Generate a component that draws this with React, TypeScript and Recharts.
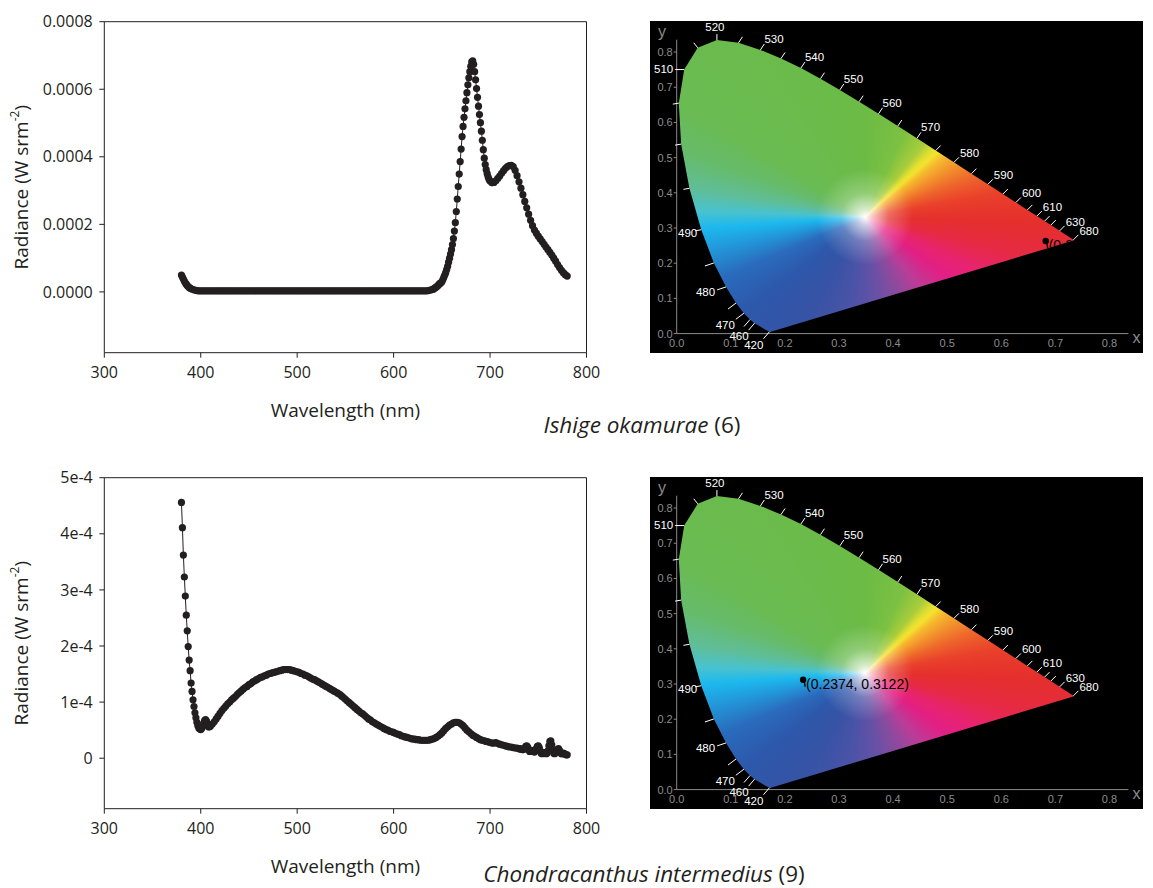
import React from 'react';
import { ComposedChart, LineChart, Line, Scatter, XAxis, YAxis, ReferenceLine, Label } from 'recharts';

// radiance spectra, [wavelength nm, radiance in 1e-6 W srm^-2]
const ishigeSpectrum: [number, number][] = [
  [380, 50], [381, 44], [382, 38], [383, 32], [384, 27], [385, 23], [386, 19], [387, 16], [388, 13], [389, 11],
  [390, 9], [392, 7], [394, 5], [396, 4], [398, 3],
  [400, 3], [402, 3], [404, 3], [406, 3], [408, 3], [410, 3], [412, 3], [414, 3], [416, 3], [418, 3],
  [420, 3], [422, 3], [424, 3], [426, 3], [428, 3], [430, 3], [432, 3], [434, 3], [436, 3], [438, 3],
  [440, 3], [442, 3], [444, 3], [446, 3], [448, 3], [450, 3], [452, 3], [454, 3], [456, 3], [458, 3],
  [460, 3], [462, 3], [464, 3], [466, 3], [468, 3], [470, 3], [472, 3], [474, 3], [476, 3], [478, 3],
  [480, 3], [482, 3], [484, 3], [486, 3], [488, 3], [490, 3], [492, 3], [494, 3], [496, 3], [498, 3],
  [500, 3], [502, 3], [504, 3], [506, 3], [508, 3], [510, 3], [512, 3], [514, 3], [516, 3], [518, 3],
  [520, 3], [522, 3], [524, 3], [526, 3], [528, 3], [530, 3], [532, 3], [534, 3], [536, 3], [538, 3],
  [540, 3], [542, 3], [544, 3], [546, 3], [548, 3], [550, 3], [552, 3], [554, 3], [556, 3], [558, 3],
  [560, 3], [562, 3], [564, 3], [566, 3], [568, 3], [570, 3], [572, 3], [574, 3], [576, 3], [578, 3],
  [580, 3], [582, 3], [584, 3], [586, 3], [588, 3], [590, 3], [592, 3], [594, 3], [596, 3], [598, 3],
  [600, 3], [602, 3], [604, 3], [606, 3], [608, 3], [610, 3], [612, 3], [614, 3], [616, 3], [618, 3],
  [620, 3], [622, 3], [624, 3], [626, 3], [628, 3], [630, 3], [632, 3], [634, 3], [636, 4], [638, 5],
  [640, 7], [641, 8], [642, 10], [643, 12], [644, 14], [645, 16], [646, 19], [647, 22], [648, 25], [649, 27],
  [650, 30], [651, 36], [652, 43], [653, 50], [654, 57], [655, 66], [656, 76], [657, 88], [658, 100], [659, 112],
  [660, 125], [661, 140], [662, 158], [663, 180], [664, 205], [665, 238], [666, 275], [667, 312], [668, 349], [669, 386],
  [670, 423], [671, 460], [672, 490], [673, 517], [674, 542], [675, 566], [676, 590], [677, 613], [678, 634], [679, 652],
  [680, 668], [681, 681], [682, 684], [683, 674], [684, 652], [685, 628], [686, 602], [687, 576], [688, 550], [689, 525],
  [690, 501], [691, 476], [692, 449], [693, 421], [694, 396], [695, 377], [696, 362], [697, 350], [698, 340], [699, 333],
  [700, 328], [702, 323], [704, 324], [706, 329], [708, 336], [710, 343], [712, 351], [714, 359], [716, 366], [718, 371],
  [720, 374], [722, 375], [724, 371], [726, 360], [728, 344], [730, 326], [732, 307], [734, 288], [736, 268], [738, 249],
  [740, 230], [742, 212], [744, 196], [746, 183], [748, 174], [750, 165], [752, 157], [754, 149], [756, 141], [758, 133],
  [760, 125], [762, 117], [764, 109], [766, 100], [768, 91], [770, 81], [772, 72], [774, 64], [776, 57], [778, 51],
  [780, 47],
];

const chondraSpectrum: [number, number][] = [
  [380, 456], [381, 411], [382, 362], [383, 323], [384, 289], [385, 255], [386, 227], [387, 199], [388, 175], [389, 156],
  [390, 134], [391, 119], [392, 104], [393, 92], [394, 81], [395, 72], [396, 64], [397, 58], [398, 54], [399, 52],
  [400, 51], [401, 53], [402, 57], [403, 62], [404, 67], [405, 69], [406, 66], [407, 60], [408, 56], [409, 56],
  [410, 57], [412, 61], [414, 65], [416, 70], [418, 75], [420, 80], [422, 85], [424, 89], [426, 93], [428, 97],
  [430, 100], [432, 104], [434, 107], [436, 110], [438, 114], [440, 117], [442, 120], [444, 123], [446, 126], [448, 128],
  [450, 131], [452, 133], [454, 136], [456, 138], [458, 140], [460, 142], [462, 144], [464, 145], [466, 147], [468, 148],
  [470, 150], [472, 151], [474, 152], [476, 153], [478, 154], [480, 155], [482, 156], [484, 157], [486, 158], [488, 158],
  [490, 158], [492, 158], [494, 157], [496, 156], [498, 155], [500, 154], [502, 153], [504, 151], [506, 150], [508, 148],
  [510, 147], [512, 145], [514, 143], [516, 141], [518, 140], [520, 138], [522, 136], [524, 134], [526, 132], [528, 130],
  [530, 128], [532, 126], [534, 124], [536, 122], [538, 120], [540, 118], [542, 116], [544, 114], [546, 111], [548, 108],
  [550, 105], [552, 102], [554, 99], [556, 96], [558, 93], [560, 90], [562, 87], [564, 84], [566, 81], [568, 79],
  [570, 76], [572, 73], [574, 70], [576, 68], [578, 65], [580, 63], [582, 61], [584, 59], [586, 57], [588, 55],
  [590, 53], [592, 51], [594, 50], [596, 48], [598, 47], [600, 46], [602, 44], [604, 43], [606, 42], [608, 40],
  [610, 39], [612, 38], [614, 37], [616, 36], [618, 35], [620, 34], [622, 34], [624, 33], [626, 33], [628, 32],
  [630, 32], [632, 32], [634, 32], [636, 32], [638, 33], [640, 34], [642, 35], [644, 37], [646, 39], [648, 42],
  [650, 45], [652, 49], [654, 53], [656, 56], [658, 59], [660, 61], [662, 63], [664, 64], [666, 64], [668, 63],
  [670, 61], [672, 58], [674, 54], [676, 50], [678, 47], [680, 44], [682, 41], [684, 39], [686, 37], [688, 35],
  [690, 33], [692, 32], [694, 31], [696, 30], [698, 29], [700, 28], [702, 27], [704, 27], [706, 28], [708, 26],
  [710, 25], [712, 24], [714, 23], [716, 22], [718, 21], [720, 20], [722, 20], [724, 19], [726, 18], [728, 18],
  [730, 17], [731, 17], [732, 16], [733, 16], [734, 15], [735, 16], [736, 18], [737, 21], [738, 22], [739, 20],
  [740, 15], [741, 12], [742, 13], [743, 14], [744, 13], [745, 12], [746, 11], [747, 13], [748, 17], [749, 21],
  [750, 22], [751, 19], [752, 13], [753, 9], [754, 8], [755, 9], [756, 10], [757, 9], [758, 8], [759, 9],
  [760, 13], [761, 22], [762, 30], [763, 31], [764, 24], [765, 14], [766, 9], [767, 8], [768, 10], [769, 13],
  [770, 16], [771, 17], [772, 14], [773, 10], [774, 8], [775, 8], [776, 9], [777, 8], [778, 7], [779, 6],
  [780, 6],
];

const wavelengthTicks = [300, 400, 500, 600, 700, 800];
const ishigeTicks = [0, 200, 400, 600, 800];
const ishigeTickLabels = ['0.0000', '0.0002', '0.0004', '0.0006', '0.0008'];
const chondraTicks = [0, 100, 200, 300, 400, 500];
const chondraTickLabels = ['0', '1e-4', '2e-4', '3e-4', '4e-4', '5e-4'];

// CIE 1931 spectral locus, [nm, x, y]
const spectralLocus: [number, number, number][] = [
  [380, 0.1741, 0.005], [385, 0.174, 0.005], [390, 0.1738, 0.0049], [395, 0.1736, 0.0049], [400, 0.1733, 0.0048],
  [405, 0.173, 0.0048], [410, 0.1726, 0.0048], [415, 0.1721, 0.0048], [420, 0.1714, 0.0051], [425, 0.1703, 0.0058],
  [430, 0.1689, 0.0069], [435, 0.1669, 0.0086], [440, 0.1644, 0.0109], [445, 0.1611, 0.0138], [450, 0.1566, 0.0177],
  [455, 0.151, 0.0227], [460, 0.144, 0.0297], [465, 0.1355, 0.0399], [470, 0.1241, 0.0578], [475, 0.1096, 0.0868],
  [480, 0.0913, 0.1327], [485, 0.0687, 0.2007], [490, 0.0454, 0.295], [495, 0.0235, 0.4127], [500, 0.0082, 0.5384],
  [505, 0.0039, 0.6548], [510, 0.0139, 0.7502], [515, 0.0389, 0.812], [520, 0.0743, 0.8338], [525, 0.1142, 0.8262],
  [530, 0.1547, 0.8059], [535, 0.1929, 0.7816], [540, 0.2296, 0.7543], [545, 0.2658, 0.7243], [550, 0.3016, 0.6923],
  [555, 0.3373, 0.6589], [560, 0.3731, 0.6245], [565, 0.4087, 0.5896], [570, 0.4441, 0.5547], [575, 0.4788, 0.5202],
  [580, 0.5125, 0.4866], [585, 0.5448, 0.4544], [590, 0.5752, 0.4242], [595, 0.6029, 0.3965], [600, 0.627, 0.3725],
  [605, 0.6482, 0.3514], [610, 0.6658, 0.334], [615, 0.6801, 0.3197], [620, 0.6915, 0.3083], [625, 0.7006, 0.2993],
  [630, 0.7079, 0.292], [635, 0.714, 0.2859], [640, 0.719, 0.2809], [645, 0.723, 0.277], [650, 0.726, 0.274],
  [655, 0.7283, 0.2717], [660, 0.73, 0.27], [665, 0.7311, 0.2689], [670, 0.732, 0.268], [680, 0.7334, 0.2666],
  [690, 0.7344, 0.2656], [700, 0.7347, 0.2653],
];
const locusTickNm = [420, 460, 465, 470, 475, 480, 485, 490, 495, 500, 505, 510, 515, 520, 525, 530, 535, 540, 545,
  550, 555, 560, 565, 570, 575, 580, 585, 590, 595, 600, 605, 610, 615, 620, 630, 680];
const locusLabelNm = [420, 460, 470, 480, 490, 510, 520, 530, 540, 550, 560, 570, 580, 590, 600, 610, 630, 680];
const cieTicks = [0, 0.1, 0.2, 0.3, 0.4, 0.5, 0.6, 0.7, 0.8];
const cieTickLabels = ['0.0', '0.1', '0.2', '0.3', '0.4', '0.5', '0.6', '0.7', '0.8'];
const whitePoint = { x: 0.348, y: 0.331 };
const ishigeChroma = { x: 0.6858, y: 0.263, label: '(0.6858, 0.2630)' };
const chondraChroma = { x: 0.2374, y: 0.3122, label: '(0.2374, 0.3122)' };

const ink = '#231f20';
const FONT = '"Open Sans", sans-serif';
const CIE_FONT = '"Liberation Sans", Arial, sans-serif';
const cieGray = '#8c8c8c';

const wavelengthTitle = (props: any) => {
  const vb = props.viewBox || { x: 104, y: 353, width: 482, height: 67 };
  return (
    <text x={vb.x + vb.width / 2} y={vb.y + 57} textAnchor="middle" dominantBaseline="central"
      fontSize={19} fill={ink} fontFamily={FONT}>Wavelength (nm)</text>
  );
};

const radianceTitle = (props: any) => {
  const vb = props.viewBox || { x: 0, y: 22, width: 104, height: 331 };
  const cx = vb.x + 21;
  const cy = vb.y + vb.height / 2;
  return (
    <text x={cx} y={cy} transform={`rotate(-90, ${cx}, ${cy})`} textAnchor="middle" dominantBaseline="central"
      fontSize={19} fill={ink} fontFamily={FONT}>
      Radiance (W srm<tspan dy={-7} fontSize={12}>-2</tspan><tspan dy={7}>)</tspan>
    </text>
  );
};

const SpectrumChart = ({ spectrum, yDomain, yTicks, yLabels }: {
  spectrum: [number, number][]; yDomain: [number, number]; yTicks: number[]; yLabels: string[];
}) => {
  const data = spectrum.map(([nm, v]) => ({ nm, v }));
  return (
    <LineChart width={600} height={440} data={data} margin={{ top: 21.7, right: 13.5, bottom: 20, left: 0 }}>
      <XAxis type="number" dataKey="nm" domain={[300, 800]} ticks={wavelengthTicks} height={67.3}
        tickSize={5} tickMargin={9} stroke={ink} tick={{ fill: ink, fontSize: 16, fontFamily: FONT }}>
        <Label content={wavelengthTitle} />
      </XAxis>
      <YAxis type="number" domain={yDomain} ticks={yTicks} width={104.3} tickSize={5} tickMargin={6.6}
        stroke={ink} tick={{ fill: ink, fontSize: 16, fontFamily: FONT }}
        tickFormatter={(v: number) => yLabels[yTicks.indexOf(v)] ?? String(v)}>
        <Label content={radianceTitle} />
      </YAxis>
      <ReferenceLine y={yDomain[1]} stroke={ink} />
      <ReferenceLine x={800} stroke={ink} />
      <Line type="linear" dataKey="v" stroke={ink} strokeWidth={1}
        dot={{ r: 3.6, fill: ink, stroke: 'none' }} activeDot={false} isAnimationActive={false} />
    </LineChart>
  );
};

const cieFill = (clipId: string) => (props: any) => {
  const { cx, cy } = props;
  const R = 600;
  const conic = 'conic-gradient(from 0deg at ' + R + 'px ' + R + 'px, #6cbb45 0deg, #7cc142 25deg, #a9cd3b 39deg, ' +
    '#e3df31 45deg, #f4e22e 48deg, #f6b82e 53deg, #f2902c 61deg, #ee652b 70deg, #e9402b 80deg, #e52f2d 92deg, ' +
    '#e62a45 104deg, #e8236f 115deg, #e21f84 126deg, #bb3c98 142deg, #8a4b9e 157deg, #6651a6 172deg, ' +
    '#4a53a7 190deg, #3753a5 210deg, #2d58ab 232deg, #2a6bbd 247deg, #2393d6 257deg, #1cb8ee 266deg, ' +
    '#48c2d0 272deg, #5fbe9a 279deg, #66bb6c 289deg, #6abb52 302deg, #6cbb45 360deg)';
  const glow = 'radial-gradient(circle at ' + R + 'px ' + R + 'px, rgba(255,255,255,1) 0px, ' +
    'rgba(255,255,255,0.7) 8px, rgba(255,255,255,0.25) 24px, rgba(255,255,255,0) 48px)';
  return (
    <foreignObject x={cx - R} y={cy - R} width={2 * R} height={2 * R} clipPath={`url(#${clipId})`}>
      <div style={{ width: 2 * R, height: 2 * R, background: glow + ', ' + conic }} />
    </foreignObject>
  );
};

const locusClip = (clipId: string) => (props: any) => {
  const { index, points } = props;
  if (index !== 0 || !points) return <g key={`lc-${index}`} />;
  const poly = points.map((p: any) => `${p.x},${p.y}`).join(' ');
  return (
    <defs key="lc-0">
      <clipPath id={clipId}><polygon points={poly} /></clipPath>
    </defs>
  );
};

const markGeometry = (nm: number) => {
  if (nm <= 465) return { tx: -6, ty: 7, lx: -6, ly: 17, anchor: 'end' };
  if (nm <= 475) return { tx: -8, ty: 6, lx: -9, ly: 16, anchor: 'end' };
  if (nm <= 485) return { tx: -9, ty: 3, lx: -11, ly: 9, anchor: 'end' };
  if (nm <= 505) return { tx: -6, ty: 1, lx: -4, ly: 7, anchor: 'end' };
  if (nm <= 510) return { tx: -9, ty: 0, lx: -11, ly: 3, anchor: 'end' };
  if (nm <= 515) return { tx: -4, ty: -5, lx: 0, ly: 0, anchor: 'end' };
  if (nm <= 520) return { tx: 0, ty: -6, lx: -2, ly: -9, anchor: 'middle' };
  if (nm < 575) return { tx: 4, ty: -6, lx: 4, ly: -7, anchor: 'start' };
  return { tx: 5, ty: -5, lx: 6, ly: -5, anchor: 'start' };
};

const WavelengthMark = (props: any) => {
  const { cx, cy, payload } = props;
  const g = markGeometry(payload.nm);
  return (
    <g>
      <line x1={cx} y1={cy} x2={cx + g.tx} y2={cy + g.ty} stroke="#fff" strokeWidth={1} />
      {payload.label ? (
        <text x={cx + g.lx} y={cy + g.ly} textAnchor={g.anchor as any} fontSize={11.5} fill="#fff"
          fontFamily={CIE_FONT}>{payload.label}</text>
      ) : null}
    </g>
  );
};

// black label: only the part over the coloured gamut stays readable, as in the source
const chromaPin = (clipId: string) => (props: any) => {
  const { cx, cy, payload } = props;
  return (
    <g>
      <line x1={cx - 1} y1={cy + 1} x2={cx} y2={cy + 7} stroke="#000" strokeWidth={1.5} />
      <circle cx={cx - 2} cy={cy} r={3.2} fill="#000" />
      <text x={cx + 1} y={cy + 9} fontSize={14} fill="#000" fontFamily={CIE_FONT}
        clipPath={`url(#${clipId})`}>{payload.label}</text>
    </g>
  );
};

const cieXName = (props: any) => {
  const vb = props.viewBox || { x: 27, y: 313, width: 452, height: 19 };
  return (
    <text x={vb.x + vb.width + 4} y={vb.y + 4} dominantBaseline="central" fontSize={16} fill={cieGray}
      fontFamily={CIE_FONT}>x</text>
  );
};

const cieYName = (props: any) => {
  const vb = props.viewBox || { x: 0, y: 19, width: 27, height: 294 };
  return (
    <text x={vb.x + 12} y={vb.y - 8} textAnchor="middle" dominantBaseline="central" fontSize={16} fill={cieGray}
      fontFamily={CIE_FONT}>y</text>
  );
};

const CieChart = ({ clipId, chroma }: { clipId: string; chroma: { x: number; y: number; label: string } }) => {
  const locus = spectralLocus.map(([nm, x, y]) => ({ nm, x, y }));
  const marks = locus
    .filter((p) => locusTickNm.includes(p.nm))
    .map((p) => ({ ...p, label: locusLabelNm.includes(p.nm) ? String(p.nm) : '' }));
  const fmt = (v: number) => cieTickLabels[cieTicks.indexOf(v)] ?? String(v);
  return (
    <ComposedChart width={493} height={332} margin={{ top: 18.7, right: 14.6, bottom: 0, left: 0 }}>
      <XAxis type="number" dataKey="x" domain={[0, 0.835]} ticks={cieTicks} height={19.4} tickLine={false}
        tickSize={4} tickMargin={2} stroke={cieGray} tickFormatter={fmt}
        tick={{ fill: cieGray, fontSize: 11, fontFamily: CIE_FONT }}>
        <Label content={cieXName} />
      </XAxis>
      <YAxis type="number" dataKey="y" domain={[0, 0.835]} ticks={cieTicks} width={26.7} tickSize={3}
        tickMargin={1} stroke={cieGray} tickFormatter={fmt}
        tick={{ fill: cieGray, fontSize: 11, fontFamily: CIE_FONT }}>
        <Label content={cieYName} />
      </YAxis>
      <Scatter data={[whitePoint]} shape={cieFill(clipId)} isAnimationActive={false} />
      <Line data={locus} dataKey="y" stroke="none" dot={locusClip(clipId)} activeDot={false}
        isAnimationActive={false} />
      <Scatter data={marks} shape={WavelengthMark} isAnimationActive={false} />
      <Scatter data={[chroma]} shape={chromaPin(clipId)} isAnimationActive={false} />
    </ComposedChart>
  );
};

const captionStyle: React.CSSProperties = {
  position: 'absolute', width: 500, textAlign: 'center', fontFamily: FONT, fontSize: 22.5,
  color: ink, lineHeight: '26px', whiteSpace: 'nowrap',
};

export default function App() {
  return (
    <div style={{ position: 'absolute', left: 0, top: 0, width: 1153, height: 888, background: '#fff', overflow: 'hidden' }}>
      <div style={{ position: 'absolute', left: 0, top: 0 }}>
        <SpectrumChart spectrum={ishigeSpectrum} yDomain={[-180, 800]} yTicks={ishigeTicks} yLabels={ishigeTickLabels} />
      </div>
      <div style={{ position: 'absolute', left: 0, top: 455.6 }}>
        <SpectrumChart spectrum={chondraSpectrum} yDomain={[-90, 500]} yTicks={chondraTicks} yLabels={chondraTickLabels} />
      </div>
      <div style={{ position: 'absolute', left: 650, top: 20.7, width: 493, height: 332, background: '#000' }}>
        <CieChart clipId="locus-ishige" chroma={ishigeChroma} />
      </div>
      <div style={{ position: 'absolute', left: 650, top: 476.7, width: 493, height: 332, background: '#000' }}>
        <CieChart clipId="locus-chondra" chroma={chondraChroma} />
      </div>
      <div style={{ ...captionStyle, left: 392, top: 412 }}>
        <i>Ishige okamurae</i> (6)
      </div>
      <div style={{ ...captionStyle, left: 394, top: 861 }}>
        <i>Chondracanthus intermedius</i> (9)
      </div>
    </div>
  );
}
